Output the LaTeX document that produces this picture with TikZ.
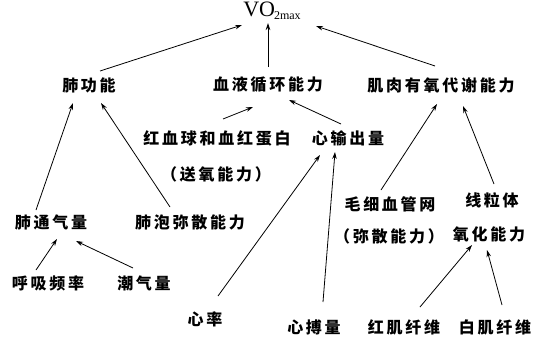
\documentclass[tikz,border=0pt]{standalone}
\usepackage{fontspec}
\usetikzlibrary{calc,arrows.meta}
\newfontfamily\cjk[LetterSpace=17]{Noto Sans CJK SC}
\newfontfamily\tnr{Liberation Serif}
\tikzset{
  lbl/.style={inner sep=1pt, font=\cjk\bfseries\fontsize{16}{16}\selectfont},
  arr/.style={line width=0.8pt, -{Stealth[length=7pt,width=4.5pt]}},
}
\begin{document}
\begin{tikzpicture}[x=1pt,y=-1pt]
\useasboundingbox[fill=white] (0,0) rectangle (543,338);
\node[inner sep=0pt] (vo) at (272,11) {\tnr\fontsize{22}{22}\selectfont VO\kern-1pt\raisebox{-3.5pt}{\fontsize{12}{12}\selectfont 2max}};
\node[lbl] (fei) at (89,85) {肺功能};
\node[lbl] (xue) at (268,85) {血液循环能力};
\node[lbl] (ji) at (441,85) {肌肉有氧代谢能力};
\node[lbl] (hong) at (217,138) {红血球和血红蛋白};
\node[lbl] (xin) at (348,138) {心输出量};
\node[lbl] (song) at (216,174) {（送氧能力）};
\node[lbl] (mao) at (390,204) {毛细血管网};
\node[lbl] (xian) at (492,200) {线粒体};
\node[lbl] (tong) at (51,222) {肺通气量};
\node[lbl] (pao) at (190,222) {肺泡弥散能力};
\node[lbl] (mi) at (389,236) {（弥散能力）};
\node[lbl] (yang) at (489,234) {氧化能力};
\node[lbl] (hu) at (48,283) {呼吸频率};
\node[lbl] (chao) at (144,283) {潮气量};
\node[lbl] (xl) at (205,319) {心率};
\node[lbl] (xb) at (314,327) {心搏量};
\node[lbl] (hj) at (404,327) {红肌纤维};
\node[lbl] (bj) at (495,327) {白肌纤维};
\draw[arr] ($(fei)+(11,-14)$) -- ($(vo)+(-30,14)$);
\draw[arr] ($(xue)+(0,-18)$) -- ($(vo)+(-4,12)$);
\draw[arr] ($(ji)+(-6,-19)$) -- ($(vo)+(44,15)$);
\draw[arr] ($(tong)+(-15,-12)$) -- ($(fei)+(-16,18)$);
\draw[arr] ($(pao)+(-20,-15)$) -- ($(fei)+(12,18)$);
\draw[arr] ($(hong)+(6,-19)$) -- ($(xue)+(-15,22)$);
\draw[arr] ($(xin)+(-7,-14)$) -- ($(xue)+(21,15)$);
\draw[arr] ($(mao)+(-9,-14)$) -- ($(ji)+(-4,19)$);
\draw[arr] ($(xian)+(2,-16)$) -- ($(ji)+(22,21)$);
\draw[arr] ($(hu)+(-12,-13)$) -- ($(tong)+(6,17)$);
\draw[arr] ($(chao)+(-11,-15)$) -- ($(tong)+(25,19)$);
\draw[arr] ($(xl)+(13,-23)$) -- ($(xin)+(-28,17)$);
\draw[arr] ($(xb)+(9,-25)$) -- ($(xin)+(-13,14)$);
\draw[arr] ($(hj)+(16,-20)$) -- ($(yang)+(-17,11)$);
\draw[arr] ($(bj)+(7,-22)$) -- ($(yang)+(-2,16)$);
\end{tikzpicture}
\end{document}
